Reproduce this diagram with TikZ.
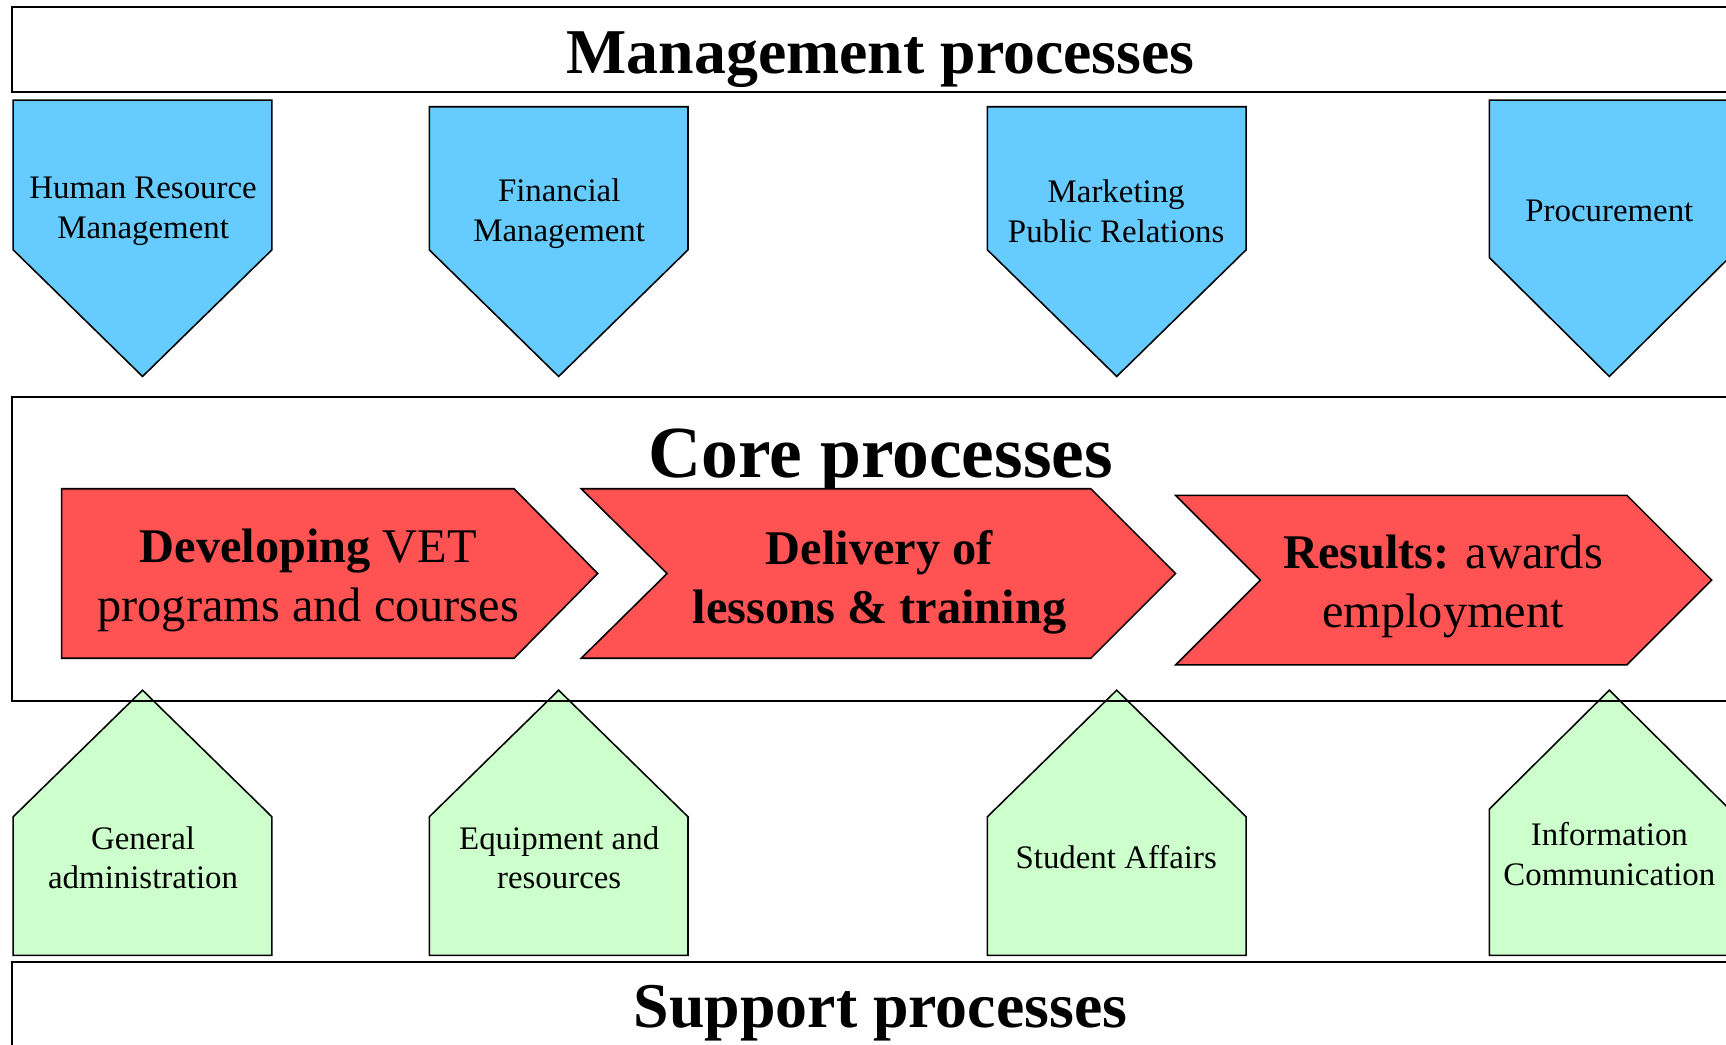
\documentclass[tikz,border=0pt]{standalone}
\usepackage{fontspec}
\setmainfont{Liberation Serif}
\definecolor{mgmtblue}{HTML}{66CCFF}
\definecolor{corered}{HTML}{FF5353}
\definecolor{supgreen}{HTML}{CCFFCC}
\newcommand{\titlefont}{\fontsize{33}{40}\selectfont\bfseries}
\newcommand{\corefont}{\fontsize{38}{46}\selectfont\bfseries}
\newcommand{\chevfont}{\fontsize{25}{30.5}\selectfont}
\newcommand{\smallfont}{\fontsize{17}{20.3}\selectfont}
\newcommand{\MgmtShape}[4]{\filldraw[shapeline,fill=mgmtblue] (#1,#3) -- (#2,#3) -- (#2,#4) -- ({(#1+#2)/2},342) -- (#1,#4) -- cycle;}
\newcommand{\SupShape}[3]{\filldraw[shapeline,fill=supgreen] (#1,868) -- (#1,#3) -- ({(#1+#2)/2},627) -- (#2,#3) -- (#2,868) -- cycle;}
\begin{document}
\begin{tikzpicture}[x=0.02cm,y=-0.02cm,
  boxline/.style={draw=black,line width=1pt},
  shapeline/.style={draw=black,line width=0.8pt,line join=miter},
  title/.style={font=\titlefont,inner sep=0pt},
  chev/.style={font=\chevfont,align=center,inner sep=0pt},
  smalltxt/.style={font=\smallfont,align=center,inner sep=0pt}]
\useasboundingbox (0,0) rectangle (1568,949);
\clip (0,0) rectangle (1568,949);
\fill[white] (0,0) rectangle (1568,949);
% management
\draw[boxline] (11,6) rectangle (1600,84);
\node[title] (mgmt) at (800,54) {Management processes};
\MgmtShape{12}{247}{91}{227}
\MgmtShape{390}{625}{97}{227}
\MgmtShape{897}{1132}{97}{227}
\MgmtShape{1353}{1571}{91}{234}
\node[smalltxt] (hr) at (130,192) {Human Resource\\Management};
\node[smalltxt] (fin) at (508,194) {Financial\\Management};
\node[smalltxt] (mkt) at (1014,192) {Marketing\\Public Relations};
\node[smalltxt] (proc) at (1462,192) {Procurement};
% support shapes (under core box line)
\SupShape{12}{247}{742}
\SupShape{390}{625}{742}
\SupShape{897}{1132}{742}
\SupShape{1353}{1571}{735}
\node[smalltxt] (gen) at (130,779) {General\\administration};
\node[smalltxt] (equ) at (508,779) {Equipment and\\resources};
\node[smalltxt] (stu) at (1014,779) {Student Affairs};
\node[smalltxt] (inf) at (1462,776) {Information\\Communication};
% core
\draw[boxline] (11,361) rectangle (1600,637);
\node[font=\corefont,inner sep=0pt] (core) at (800,419) {Core processes};
\filldraw[shapeline,fill=corered] (56,444) -- (467,444) -- (543,521) -- (467,598) -- (56,598) -- cycle;
\filldraw[shapeline,fill=corered] (528,444) -- (991,444) -- (1068,521) -- (991,598) -- (528,598) -- (606,521) -- cycle;
\filldraw[shapeline,fill=corered] (1068,450) -- (1478,450) -- (1555,527) -- (1478,604) -- (1068,604) -- (1145,527) -- cycle;
\node[chev] (dev) at (280,527) {\textbf{Developing} VET\\programs and courses};
\node[chev] (del) at (799,529) {\textbf{Delivery of}\\\textbf{lessons \& training}};
\node[chev] (res) at (1311,533) {\textbf{Results:} awards\\employment};
% support
\draw[boxline] (11,874) rectangle (1600,1000);
\node[title] (sup) at (800,920) {Support processes};
\end{tikzpicture}
\end{document}
